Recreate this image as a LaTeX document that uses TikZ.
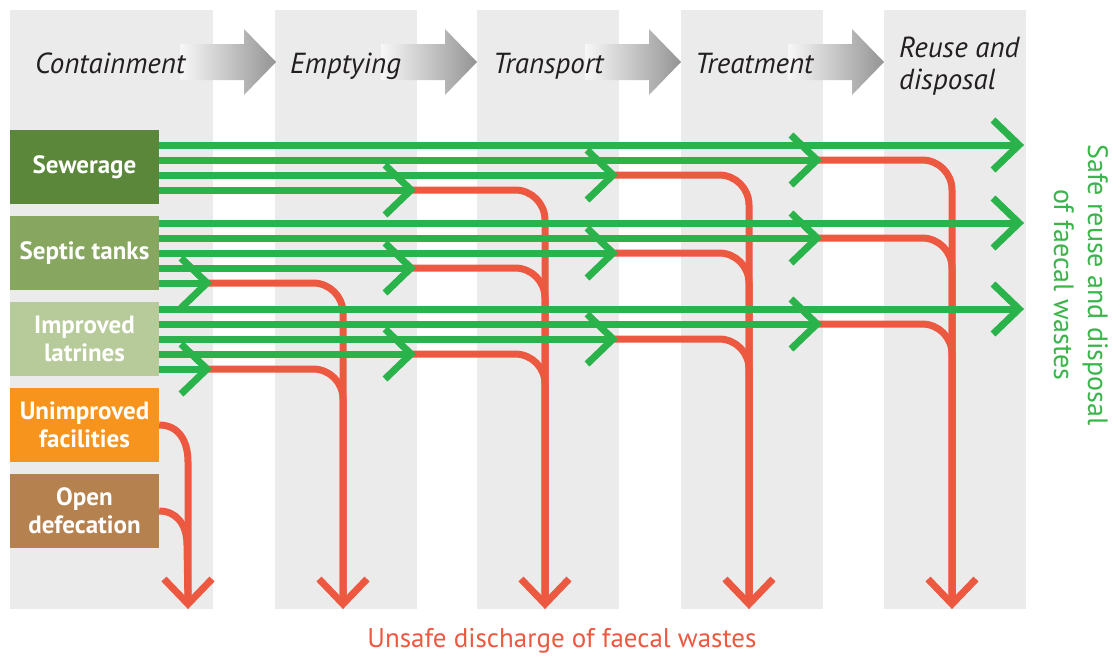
\documentclass[tikz,border=0pt]{standalone}
\usepackage{fontspec}
\setmainfont{PT Sans}
\usetikzlibrary{calc}
\definecolor{colbg}{HTML}{EBEBEB}
\definecolor{cSew}{HTML}{5B873B}
\definecolor{cSep}{HTML}{87A660}
\definecolor{cImp}{HTML}{B7CA9A}
\definecolor{cUni}{HTML}{F7941E}
\definecolor{cOpe}{HTML}{B5814F}
\definecolor{gline}{HTML}{2AB24B}
\definecolor{rline}{HTML}{EC5840}
\definecolor{gtext}{HTML}{3AB54A}
\definecolor{htext}{HTML}{231F20}
\tikzset{
  colfill/.style={fill=colbg},
  hdrarrow/.style={left color=black!3, right color=black!42, draw=none},
  hdtext/.style={text=htext, font=\itshape\fontsize{29}{32}\selectfont, inner sep=0pt},
  catbox/.style={minimum width=149pt, minimum height=74pt, inner sep=0pt, text=white,
    align=center, font=\bfseries\fontsize{25}{28}\selectfont},
  gflow/.style={draw=gline, line width=7pt, line cap=butt},
  rflow/.style={draw=rline, line width=7pt, line cap=butt, rounded corners=30pt},
  gchev/.style={draw=gline, line width=7pt, line cap=butt, line join=miter},
  rchev/.style={draw=rline, line width=7pt, line cap=butt, line join=miter},
  sidetext/.style={text=gtext, font=\fontsize{28}{34}\selectfont, align=center, inner sep=0pt},
  bottext/.style={text=rline, font=\fontsize{27}{30}\selectfont, inner sep=0pt}
}
\begin{document}
\begin{tikzpicture}[x=1pt,y=-1pt]
\useasboundingbox (0,0) rectangle (1114,656);
\fill[white] (0,0) rectangle (1114,656);
% stage columns
\foreach \a/\b in {10/213,275/417,477/619,681/823,884/1026}
  \fill[colfill] (\a,10) rectangle (\b,609);
% header arrows
\foreach \t in {276,477,681,884}
  \shade[hdrarrow] (\t-96,44) -- (\t-32,44) -- (\t-32,29) -- (\t,62) -- (\t-32,95) -- (\t-32,80) -- (\t-96,80) -- cycle;
% header texts
\node[hdtext, anchor=base west] (hCon) at (35,73) {Containment};
\node[hdtext, anchor=base west] (hEmp) at (290,73) {Emptying};
\node[hdtext, anchor=base west] (hTra) at (493,73) {Transport};
\node[hdtext, anchor=base west] (hTre) at (695,73) {Treatment};
\node[hdtext, anchor=base west] (hReu) at (899,57) {Reuse and};
\node[hdtext, anchor=base west] (hDis) at (899,89) {disposal};
% category boxes
\node[catbox, fill=cSew] (sew) at (84.5,167) {Sewerage};
\node[catbox, fill=cSep] (sep) at (84.5,253) {Septic tanks};
\node[catbox, fill=cImp] (imp) at (84.5,339) {Improved\\latrines};
\node[catbox, fill=cUni] (uni) at (84.5,425) {Unimproved\\facilities};
\node[catbox, fill=cOpe] (ope) at (84.5,511) {Open\\defecation};
% bottom coordinates of the unsafe-discharge arrows
\foreach \v/\n in {188/d1,343/d2,545/d3,749/d4,952/d5}
  \coordinate (\n) at (\v,604);
% red flows (unsafe)
\foreach \y/\e/\v in {160/817/952,175/613/749,190/411/545,
                      238/817/952,253/613/749,268/411/545,283/207/343,
                      324/817/952,339/613/749,354/411/545,369/207/343}
  \draw[rflow] (\e,\y) -- (\v,\y) -- (\v,604);
\draw[draw=rline, line width=7pt] (uni.east) .. controls (178,425) and (188,440) .. (188,462) -- (d1);
\draw[draw=rline, line width=7pt] (ope.east) .. controls (176,511) and (187,524) .. (187,545) -- (d1);
% green flows (safe)
\foreach \n/\y/\e in {sew/145/1019,sew/160/817,sew/175/613,sew/190/411,
                      sep/223/1019,sep/238/817,sep/253/613,sep/268/411,sep/283/207,
                      imp/309/1019,imp/324/817,imp/339/613,imp/354/411,imp/369/207}
  {\coordinate (g-\y) at (\e,\y);
   \draw[gflow] (\n.east |- g-\y) -- (g-\y);
   \draw[gchev] ($(g-\y)+(-26,-25)$) -- (g-\y) -- ($(g-\y)+(-26,25)$);}
% red arrow heads
\foreach \n in {d1,d2,d3,d4,d5}
  \draw[rchev] ($(\n)+(-24,-25)$) -- (\n) -- ($(\n)+(24,-25)$);
% side and bottom labels
\node[sidetext, rotate=-90] (safe) at (1081,285) {Safe reuse and disposal\\of faecal wastes};
\node[bottext, anchor=base] (unsafe) at (562,647) {Unsafe discharge of faecal wastes};
\end{tikzpicture}
\end{document}
